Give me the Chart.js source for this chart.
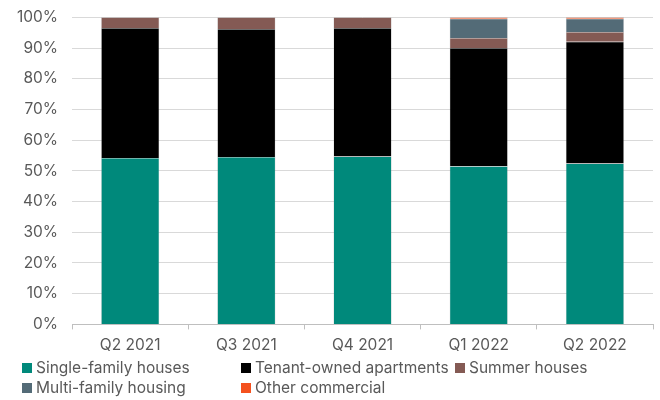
<!DOCTYPE html>
<html>
<head>
<meta charset="utf-8">
<script src="https://cdn.jsdelivr.net/npm/chart.js@4"></script>
<style>
  body { margin: 0; background: #fff; font-family: Inter, sans-serif; }
  #wrap { position: relative; width: 660px; height: 368px; margin-top: -6px; }
  #legend { position: absolute; left: 0; top: 358px; width: 660px; font-size: 15.5px; color: #595959; }
  .item { position: absolute; display: flex; align-items: center; white-space: nowrap; line-height: 20px; }
  .box { width: 10px; height: 10px; margin-right: 4px; }
</style>
</head>
<body>
<div id="wrap"><canvas id="chart"></canvas></div>
<div id="legend"></div>
<script>
const categories = ['Q2 2021', 'Q3 2021', 'Q4 2021', 'Q1 2022', 'Q2 2022'];
const singleFamily = [54.2, 54.5, 54.7, 51.5, 52.4];
const tenantOwned = [42.3, 41.7, 41.8, 38.5, 39.6];
const summerHouses = [3.5, 3.8, 3.5, 3.3, 3.2];
const multiFamily = [0, 0, 0, 6.2, 4.3];
const otherCommercial = [0, 0, 0, 0.5, 0.5];
const seriesNames = ['Single-family houses', 'Tenant-owned apartments', 'Summer houses', 'Multi-family housing', 'Other commercial'];
const colors = ['#00897b', '#000000', '#845a54', '#536b77', '#f4511e'];

const seriesData = [singleFamily, tenantOwned, summerHouses, multiFamily, otherCommercial];

const chart = new Chart(document.getElementById('chart'), {
  type: 'bar',
  data: {
    labels: categories,
    datasets: seriesData.map((d, i) => ({
      label: seriesNames[i],
      data: d,
      backgroundColor: colors[i],
      borderColor: 'rgba(150,150,150,0.6)',
      borderWidth: 0.5,
      barPercentage: 0.5,
      categoryPercentage: 1
    }))
  },
  options: {
    responsive: true,
    maintainAspectRatio: false,
    animation: false,
    layout: { padding: { left: 3, right: 7, top: 0, bottom: 0 } },
    plugins: { legend: { display: false }, tooltip: { enabled: false } },
    scales: {
      x: {
        stacked: true,
        grid: { display: true, drawOnChartArea: false, offset: true, tickLength: 5, color: '#bfbfbf' },
        border: { display: true, color: '#bfbfbf' },
        ticks: { color: '#595959', font: { family: 'Inter', size: 15.5 }, padding: 7 }
      },
      y: {
        stacked: true,
        min: 0,
        max: 100,
        grid: { color: '#d9d9d9', drawTicks: false },
        border: { display: false },
        ticks: {
          stepSize: 10,
          padding: 14,
          color: '#595959',
          font: { family: 'Inter', size: 15.5 },
          callback: v => v + '%'
        }
      }
    }
  }
});

// legend in columns like the original
const legend = document.getElementById('legend');
const colX = [22, 241, 455];
const rowY = [0, 20];
chart.data.datasets.forEach((ds, i) => {
  const el = document.createElement('div');
  el.className = 'item';
  el.style.left = colX[i % 3] + 'px';
  el.style.top = rowY[Math.floor(i / 3)] + 'px';
  el.innerHTML = '<span class="box" style="background:' + ds.backgroundColor + '"></span>' + ds.label;
  legend.appendChild(el);
});
</script>
</body>
</html>
